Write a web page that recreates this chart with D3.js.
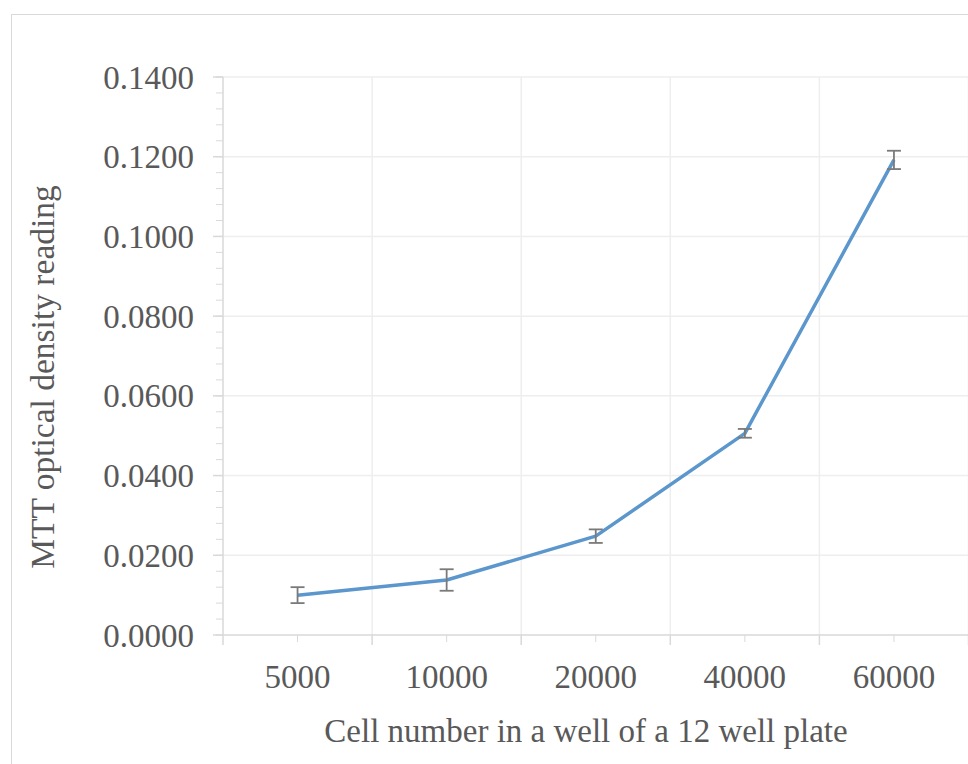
<!DOCTYPE html>
<html><head><meta charset="utf-8">
<script src="https://cdn.jsdelivr.net/npm/d3@7"></script>
<style>body{margin:0;background:#fff}svg{display:block}</style>
</head><body>
<script>
const categories = ["5000","10000","20000","40000","60000"];
const values = [0.0100, 0.0138, 0.0248, 0.0506, 0.1192];
const errors = [0.0020, 0.0027, 0.0017, 0.0011, 0.0023];
const yTicks = [0, 0.02, 0.04, 0.06, 0.08, 0.10, 0.12, 0.14];
const yTitle = "MTT optical density reading";
const xTitle = "Cell number in a well of a 12 well plate";

(function () {
const W = 968, H = 764;
const svg = d3.select("body").append("svg").attr("width", W).attr("height", H);
const font = "'Liberation Serif', serif";
const textColor = "#595959";

// chart border
svg.append("rect").attr("x", 11.5).attr("y", 14.5).attr("width", 1000).attr("height", 800)
  .attr("fill", "none").attr("stroke", "#d9d9d9").attr("stroke-width", 1);

const pLeft = 223, pRight = 968.5, pTop = 77, pBottom = 635;
const x = d3.scaleBand().domain(categories).range([pLeft, pRight]).padding(0);
const y = d3.scaleLinear().domain([0, 0.14]).range([pBottom, pTop]);

// gridlines horizontal
svg.append("g").selectAll("line").data(yTicks.slice(1)).join("line")
  .attr("x1", pLeft).attr("x2", pRight).attr("y1", d => y(d)).attr("y2", d => y(d))
  .attr("stroke", "#eeeeee").attr("stroke-width", 1.5);
// gridlines vertical (band boundaries)
const bounds = categories.map(c => x(c)).concat([x(categories[categories.length-1]) + x.bandwidth()]);
svg.append("g").selectAll("line").data(bounds.slice(1)).join("line")
  .attr("x1", d => d).attr("x2", d => d).attr("y1", pTop).attr("y2", pBottom)
  .attr("stroke", "#eeeeee").attr("stroke-width", 1.5);

// y axis line
svg.append("line").attr("x1", pLeft).attr("x2", pLeft).attr("y1", pTop).attr("y2", pBottom)
  .attr("stroke", "#d9d9d9").attr("stroke-width", 1.5);
// y minor ticks
const minor = d3.range(0, 0.1400001, 0.004);
svg.append("g").selectAll("line").data(minor).join("line")
  .attr("x1", 216).attr("x2", pLeft).attr("y1", d => y(d)).attr("y2", d => y(d))
  .attr("stroke", "#d9d9d9").attr("stroke-width", 1);
// y major ticks
svg.append("g").selectAll("line").data(yTicks).join("line")
  .attr("x1", 213).attr("x2", pLeft).attr("y1", d => y(d)).attr("y2", d => y(d))
  .attr("stroke", "#d9d9d9").attr("stroke-width", 1.5);
// y labels
svg.append("g").selectAll("text").data(yTicks).join("text")
  .attr("x", 194).attr("y", d => y(d)).attr("dy", "0.35em")
  .attr("text-anchor", "end").attr("font-family", font).attr("font-size", 33)
  .attr("fill", textColor).text(d => d3.format(".4f")(d));

// x axis line
svg.append("line").attr("x1", pLeft).attr("x2", pRight).attr("y1", pBottom).attr("y2", pBottom)
  .attr("stroke", "#d9d9d9").attr("stroke-width", 1.5);
// x major ticks at boundaries
svg.append("g").selectAll("line").data(bounds).join("line")
  .attr("x1", d => d).attr("x2", d => d).attr("y1", pBottom).attr("y2", 645)
  .attr("stroke", "#d9d9d9").attr("stroke-width", 1.5);
// x minor ticks at centers
svg.append("g").selectAll("line").data(categories).join("line")
  .attr("x1", d => x(d) + x.bandwidth()/2).attr("x2", d => x(d) + x.bandwidth()/2)
  .attr("y1", pBottom).attr("y2", 642)
  .attr("stroke", "#d9d9d9").attr("stroke-width", 1);
// x labels
svg.append("g").selectAll("text").data(categories).join("text")
  .attr("x", d => x(d) + x.bandwidth()/2).attr("y", 688)
  .attr("text-anchor", "middle").attr("font-family", font).attr("font-size", 33)
  .attr("fill", textColor).text(d => d);

// titles
svg.append("text").attr("transform", "translate(54,377) rotate(-90)")
  .attr("text-anchor", "middle").attr("font-family", font).attr("font-size", 33.5)
  .attr("fill", textColor).text(yTitle);
svg.append("text").attr("x", 586).attr("y", 742)
  .attr("text-anchor", "middle").attr("font-family", font).attr("font-size", 33)
  .attr("fill", textColor).text(xTitle);

// line
const cx = d => x(d) + x.bandwidth()/2;
const line = d3.line().x((d,i) => cx(categories[i])).y(d => y(d));
svg.append("path").datum(values).attr("d", line).attr("fill", "none")
  .attr("stroke", "#5b96cc").attr("stroke-width", 3.5).attr("stroke-linejoin", "round");

// error bars
const eb = svg.append("g").attr("stroke", "#7a7a7a").attr("stroke-width", 1.8);
values.forEach((v, i) => {
  const px = cx(categories[i]);
  eb.append("line").attr("x1", px).attr("x2", px).attr("y1", y(v - errors[i])).attr("y2", y(v + errors[i]));
  [v - errors[i], v + errors[i]].forEach(e => {
    eb.append("line").attr("x1", px - 7).attr("x2", px + 7).attr("y1", y(e)).attr("y2", y(e));
  });
});
})();
</script>
</body></html>
